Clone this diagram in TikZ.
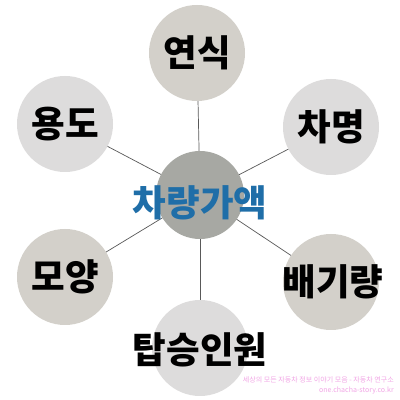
\documentclass[tikz,border=0pt]{standalone}
\usepackage{fontspec}
\newfontfamily\krfont{Noto Sans CJK KR}
\usetikzlibrary{backgrounds}

\definecolor{beige}{HTML}{D3D0CA}
\definecolor{lightgray}{HTML}{DDDCDC}
\definecolor{hubgray}{HTML}{A7A8A3}
\definecolor{hubblue}{HTML}{1F6EA8}
\definecolor{markpink}{HTML}{F2A6E6}

\begin{document}
\begin{tikzpicture}[
	item/.style={circle, minimum size=2.4cm, inner sep=0pt},
	hub/.style={circle, minimum size=2.2cm, inner sep=0pt, fill=hubgray},
	word/.style={inner sep=0pt, font=\krfont\bfseries\fontsize{26}{26}\selectfont},
	spoke/.style={draw=black!65, line width=0.5pt}
	]
	\useasboundingbox (0,0) rectangle (10,10);

	\node[hub] (hub) at (5, 5.125) {};

	\node[item, fill=beige] (year) at (4.925, 8.675) {};
	\node[item, fill=lightgray] (name) at (8.275, 6.825) {};
	\node[item, fill=beige] (disp) at (8.275, 2.95) {};
	\node[item, fill=lightgray] (seats) at (5, 1.3) {};
	\node[item, fill=beige] (shape) at (1.625, 3.075) {};
	\node[item, fill=lightgray] (use) at (1.625, 6.9) {};

	% spokes behind the circles
	\begin{pgfonlayer}{background}
	\fill[white] (0,0) rectangle (10,10);
	\foreach \n in {year,name,disp,seats,shape,use}
		\draw[spoke] (hub.center) -- (\n.center);
	\end{pgfonlayer}

	% labels
	\node[word, text=hubblue, yshift=-0.2cm] (hubtext) at (hub) {차량가액};
	\node[word] (yeartext) at (year) {연식};
	\node[word] (nametext) at (name) {차명};
	\node[word, xshift=0.05cm] (disptext) at (disp) {배기량};
	\node[word, yshift=-0.05cm] (seatstext) at (seats) {탑승인원};
	\node[word] (shapetext) at (shape) {모양};
	\node[word] (usetext) at (use) {용도};

	\node[anchor=south east, inner sep=0pt, align=right, text=markpink,
		font=\krfont\fontsize{5}{6.5}\selectfont] (mark) at (9.85, 0.15)
		{세상의 모든 자동차 정보 이야기 모음 - 자동차 연구소\\one.chacha-story.co.kr};
\end{tikzpicture}
\end{document}
